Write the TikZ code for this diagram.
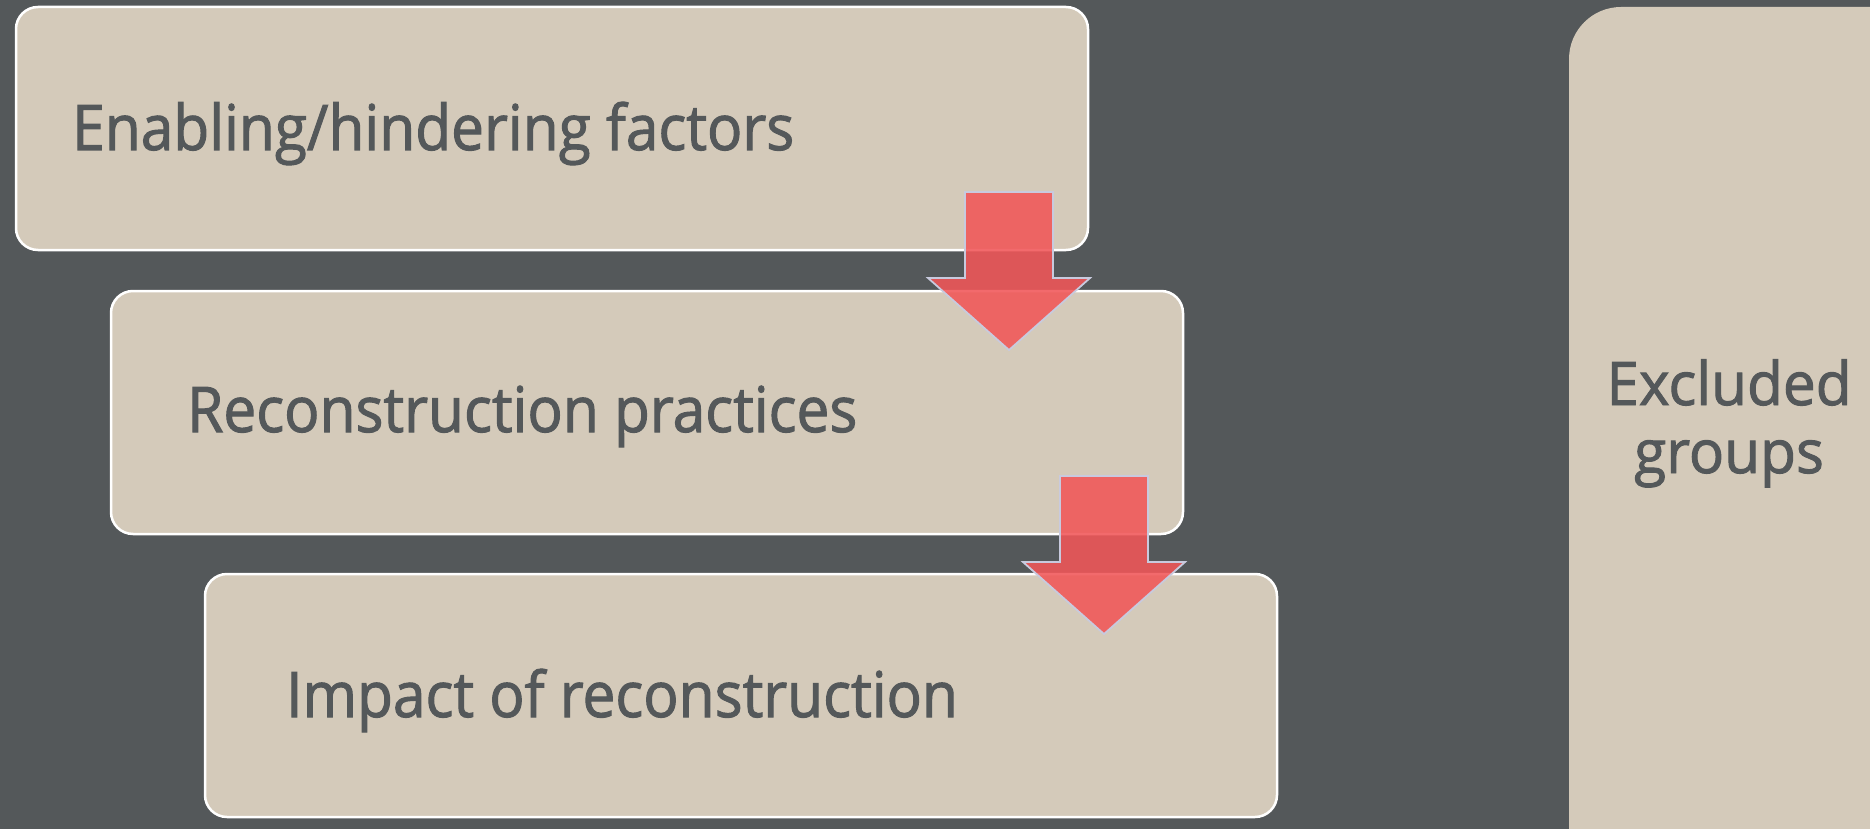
\documentclass[tikz,border=0pt]{standalone}
\usepackage{fontspec}
\setmainfont[FakeStretch=0.93, FakeBold=1.6]{Open Sans}
\newfontfamily\exfont[FakeStretch=0.975, FakeBold=1.6]{Open Sans}
\usetikzlibrary{calc}
\definecolor{bgc}{RGB}{84,88,90}
\definecolor{beige}{RGB}{212,202,186}
\definecolor{txt}{RGB}{84,88,90}
\definecolor{arr}{RGB}{241,86,88}
\definecolor{arrline}{RGB}{200,202,222}
\tikzset{
  stagebox/.style={rectangle, rounded corners=22pt, fill=beige, draw=white, line width=2.5pt,
    minimum width=1072pt, minimum height=243pt, inner sep=0pt, outer sep=0pt, anchor=north west},
  lbl/.style={text=txt, font=\fontsize{63}{68}\selectfont, inner sep=0pt, anchor=base west},
  blockarrow/.pic={
    \fill[arr, opacity=0.88] (-44,0) -- (44,0) -- (44,86) -- (81,86) -- (0,158) -- (-81,86) -- (-44,86) -- cycle;
    \draw[arrline, line width=1.8pt, line join=miter] (-44,0) -- (44,0) -- (44,86) -- (81,86) -- (0,158) -- (-81,86) -- (-44,86) -- cycle;
  }
}
\begin{document}
\begin{tikzpicture}[x=1pt, y=-1pt]
\fill[bgc] (0,0) rectangle (1870,829);
\useasboundingbox (0,0) rectangle (1870,829);
\begin{scope}
\clip (0,0) rectangle (1870,829);
\fill[beige, rounded corners=52pt] (1569,7) rectangle (1930,880);
\end{scope}
\node[text=txt, font=\exfont\fontsize{60}{68}\selectfont, align=center, inner sep=0pt, anchor=base] (ex) at (1729,473) {Excluded\\groups};

\node[stagebox] (b1) at (16,7) {};
\node[stagebox] (b2) at (111,291) {};
\node[stagebox] (b3) at (205,574) {};

\node[lbl] (t1) at ($(b1.north west)+(56,143)$) {Enabling/hindering factors};
\node[lbl] (t2) at ($(b2.north west)+(76,141)$) {Reconstruction practices};
\node[lbl] (t3) at ($(b3.north west)+(81,143)$) {Impact of reconstruction};

\pic at ($(b1.south east)+(-79,-58)$) {blockarrow};
\pic at ($(b2.south east)+(-79,-58)$) {blockarrow};
\end{tikzpicture}
\end{document}
